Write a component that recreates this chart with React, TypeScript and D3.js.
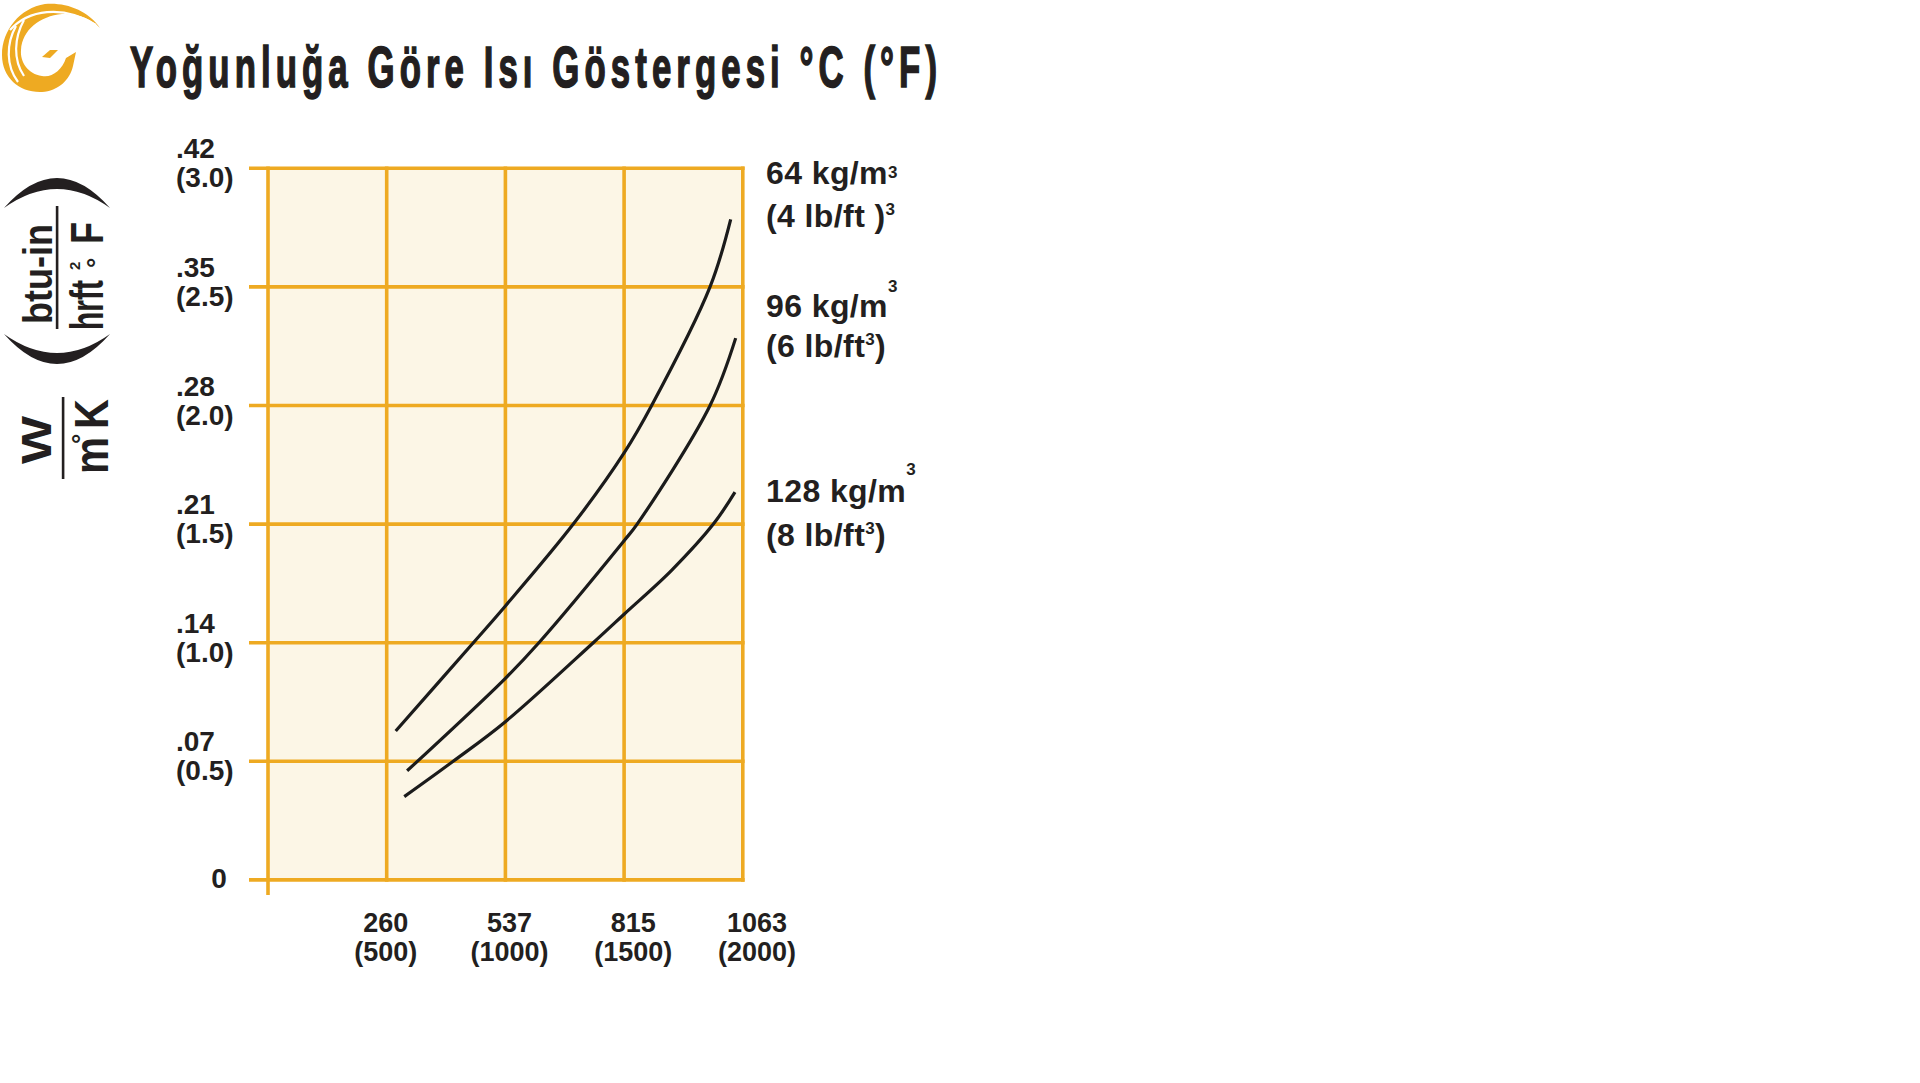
import React from 'react';
import * as d3 from 'd3';

// ---------- data ----------
const tempF = [0, 500, 1000, 1500, 2000];
const tempCLabels = ['260', '537', '815', '1063'];
const tempFLabels = ['(500)', '(1000)', '(1500)', '(2000)'];

const kValues = [0, 0.5, 1.0, 1.5, 2.0, 2.5, 3.0];
const kSILabels = ['0', '.07', '.14', '.21', '.28', '.35', '.42'];
const kImpLabels = ['', '(0.5)', '(1.0)', '(1.5)', '(2.0)', '(2.5)', '(3.0)'];

// density curves: temperature (°F) vs k (btu-in / hr ft² °F)
const curve64F = [538, 865, 1000, 1286, 1500, 1616, 1862, 1949];
const curve64K = [0.628, 1.0, 1.155, 1.5, 1.8, 2.0, 2.5, 2.785];
const curve96F = [586, 1000, 1141, 1500, 1555, 1862, 1970];
const curve96K = [0.46, 0.85, 1.0, 1.43, 1.5, 2.0, 2.284];
const curve128F = [574, 780, 1000, 1370, 1500, 1700, 1876, 1967];
const curve128K = [0.351, 0.5, 0.667, 1.0, 1.12, 1.305, 1.5, 1.635];

const densityKgLabels = ['64 kg/m', '96 kg/m', '128 kg/m'];
const densityLbPre = ['(4 lb/ft )', '(6 lb/ft', '(8 lb/ft'];
const densityLbPost = ['', ')', ')'];

const titleText = 'Yoğunluğa Göre Isı Göstergesi °C (°F)';

// ---------- style ----------
const INK = '#231f20';
const GOLD = '#eeaa22';
const CREAM = '#fcf6e6';
const FONT = "'Liberation Sans', Arial, Helvetica, sans-serif";

const zip = (a: number[], b: number[]): [number, number][] => a.map((v, i) => [v, b[i]]);

export default function App() {
  const x = d3.scaleLinear().domain([0, 2000]).range([268, 742.8]);
  const y = d3.scaleLinear().domain([0, 3]).range([879.9, 168.3]);
  const xLab = d3.scaleLinear().domain([0, 2000]).range([262, 757]);
  const line = d3
    .line<[number, number]>()
    .x((d) => x(d[0]))
    .y((d) => y(d[1]))
    .curve(d3.curveCatmullRom.alpha(0.5));

  const series = [zip(curve64F, curve64K), zip(curve96F, curve96K), zip(curve128F, curve128K)];

  // layout for labels at the right
  const leg1Y = [184, 317, 502];
  const leg2Y = [227, 357, 546];
  const sup1 = [-6, -25, -27];

  const x0 = x(0);
  const x1 = x(2000);
  const yTop = y(3);
  const yBot = y(0);

  const rot = (px: number, py: number) => `translate(${px},${py}) rotate(-90)`;
  const titleScale = 0.6;

  return (
    <svg
      width={1920}
      height={1083}
      style={{ position: 'absolute', left: 0, top: 0, display: 'block' }}
      fontFamily={FONT}
    >
      <rect x={0} y={0} width={1920} height={1083} fill="#ffffff" />

      {/* logo */}
      <g fill={GOLD}>
        <path d="M100,28 C88,10 65,2 45,4 C20,8 2,30 2,55 C2,78 20,93 42,92 C58,91 70,80 73,66 L76,52 L66,58 C62,70 52,78 42,76 C28,74 20,62 21,50 C22,30 40,16 62,14 C78,13 92,19 100,28 Z" />
        <path d="M42,57 L50,50 L58,50 L50,58 Z" />
      </g>
      <g fill="none" stroke="#ffffff" strokeWidth={2.2}>
        <path d="M10,30 C28,10 62,4 96,25" />
        <path d="M16,26 C6,44 6,66 18,82" />
        <path d="M24,20 C14,38 13,60 24,76" />
      </g>

      {/* title */}
      <g transform={`translate(130,87) scale(${titleScale},1)`}>
        <text
          x={0}
          y={0}
          fontSize={58}
          fontWeight="bold"
          fill={INK}
          stroke={INK}
          strokeWidth={1.6}
          textLength={807 / titleScale}
          lengthAdjust="spacing"
        >
          {titleText}
        </text>
      </g>

      {/* plot background */}
      <rect x={x0} y={yTop} width={x1 - x0} height={yBot - yTop} fill={CREAM} />

      {/* grid */}
      <g stroke={GOLD} strokeWidth={3.6} strokeLinecap="butt">
        {kValues.map((v) => (
          <line key={'h' + v} x1={x0 - 19} x2={x1 + 1.8} y1={y(v)} y2={y(v)} />
        ))}
        {tempF.map((v) => (
          <line key={'v' + v} x1={x(v)} x2={x(v)} y1={yTop - 1.8} y2={v === 0 ? yBot + 15 : yBot + 1.8} />
        ))}
      </g>

      {/* curves */}
      <g fill="none" stroke="#1b1b1b" strokeWidth={3.2} strokeLinecap="butt">
        {series.map((s, i) => (
          <path key={i} d={line(s) || ''} />
        ))}
      </g>

      {/* y tick labels */}
      <g fontSize={28} fontWeight="bold" fill={INK}>
        {kValues.map((v, i) =>
          kImpLabels[i] ? (
            <g key={'yl' + v}>
              <text x={176} y={y(v) - 10}>{kSILabels[i]}</text>
              <text x={176} y={y(v) + 19}>{kImpLabels[i]}</text>
            </g>
          ) : (
            <text key={'yl' + v} x={219} y={y(v) + 8} textAnchor="middle">
              {kSILabels[i]}
            </text>
          )
        )}
      </g>

      {/* x tick labels */}
      <g fontSize={27} fontWeight="bold" fill={INK} textAnchor="middle">
        {tempF.slice(1).map((v, i) => (
          <g key={'xl' + v}>
            <text x={xLab(v)} y={yBot + 52}>{tempCLabels[i]}</text>
            <text x={xLab(v)} y={yBot + 81}>{tempFLabels[i]}</text>
          </g>
        ))}
      </g>

      {/* density labels */}
      <g fontSize={32} fontWeight="bold" fill={INK}>
        {densityKgLabels.map((t, i) => (
          <g key={'d' + i}>
            <text x={766} y={leg1Y[i]} letterSpacing={0.4}>
              {t}
              <tspan fontSize={17} dy={sup1[i]}>3</tspan>
            </text>
            <text x={766} y={leg2Y[i]} letterSpacing={0.4}>
              {densityLbPre[i]}
              <tspan fontSize={17} dy={-12}>3</tspan>
              {densityLbPost[i] ? <tspan dy={12}>{densityLbPost[i]}</tspan> : null}
            </text>
          </g>
        ))}
      </g>

      {/* rotated y-axis unit label */}
      <g fill={INK} fontWeight="bold">
        {/* big parentheses */}
        <path d="M4,208 Q57,148 110,208 Q57,170 4,208 Z" />
        <path d="M4,334 Q57,394 110,334 Q57,372 4,334 Z" />
        {/* numerator */}
        <text transform={rot(52, 274)} fontSize={40} textAnchor="middle" textLength={100} lengthAdjust="spacingAndGlyphs">
          btu-in
        </text>
        <rect x={55.8} y={206} width={2.6} height={123} />
        {/* denominator */}
        <text transform={rot(103, 330)} fontSize={46} textLength={50} lengthAdjust="spacingAndGlyphs">
          hrft
        </text>
        <text transform={rot(80, 270)} fontSize={15}>2</text>
        <text transform={rot(105, 268)} fontSize={26}>°</text>
        <text transform={rot(103, 244)} fontSize={46} textLength={22} lengthAdjust="spacingAndGlyphs">
          F
        </text>

        {/* W / m°K */}
        <text transform={rot(51, 440)} fontSize={42} textAnchor="middle" textLength={48} lengthAdjust="spacingAndGlyphs">
          W
        </text>
        <rect x={61.8} y={397} width={2.6} height={82} />
        <text transform={rot(108, 474)} fontSize={48} textLength={37} lengthAdjust="spacingAndGlyphs">
          m
        </text>
        <text transform={rot(90, 444)} fontSize={26}>°</text>
        <text transform={rot(108, 429)} fontSize={48} textLength={30} lengthAdjust="spacingAndGlyphs">
          K
        </text>
      </g>
    </svg>
  );
}
